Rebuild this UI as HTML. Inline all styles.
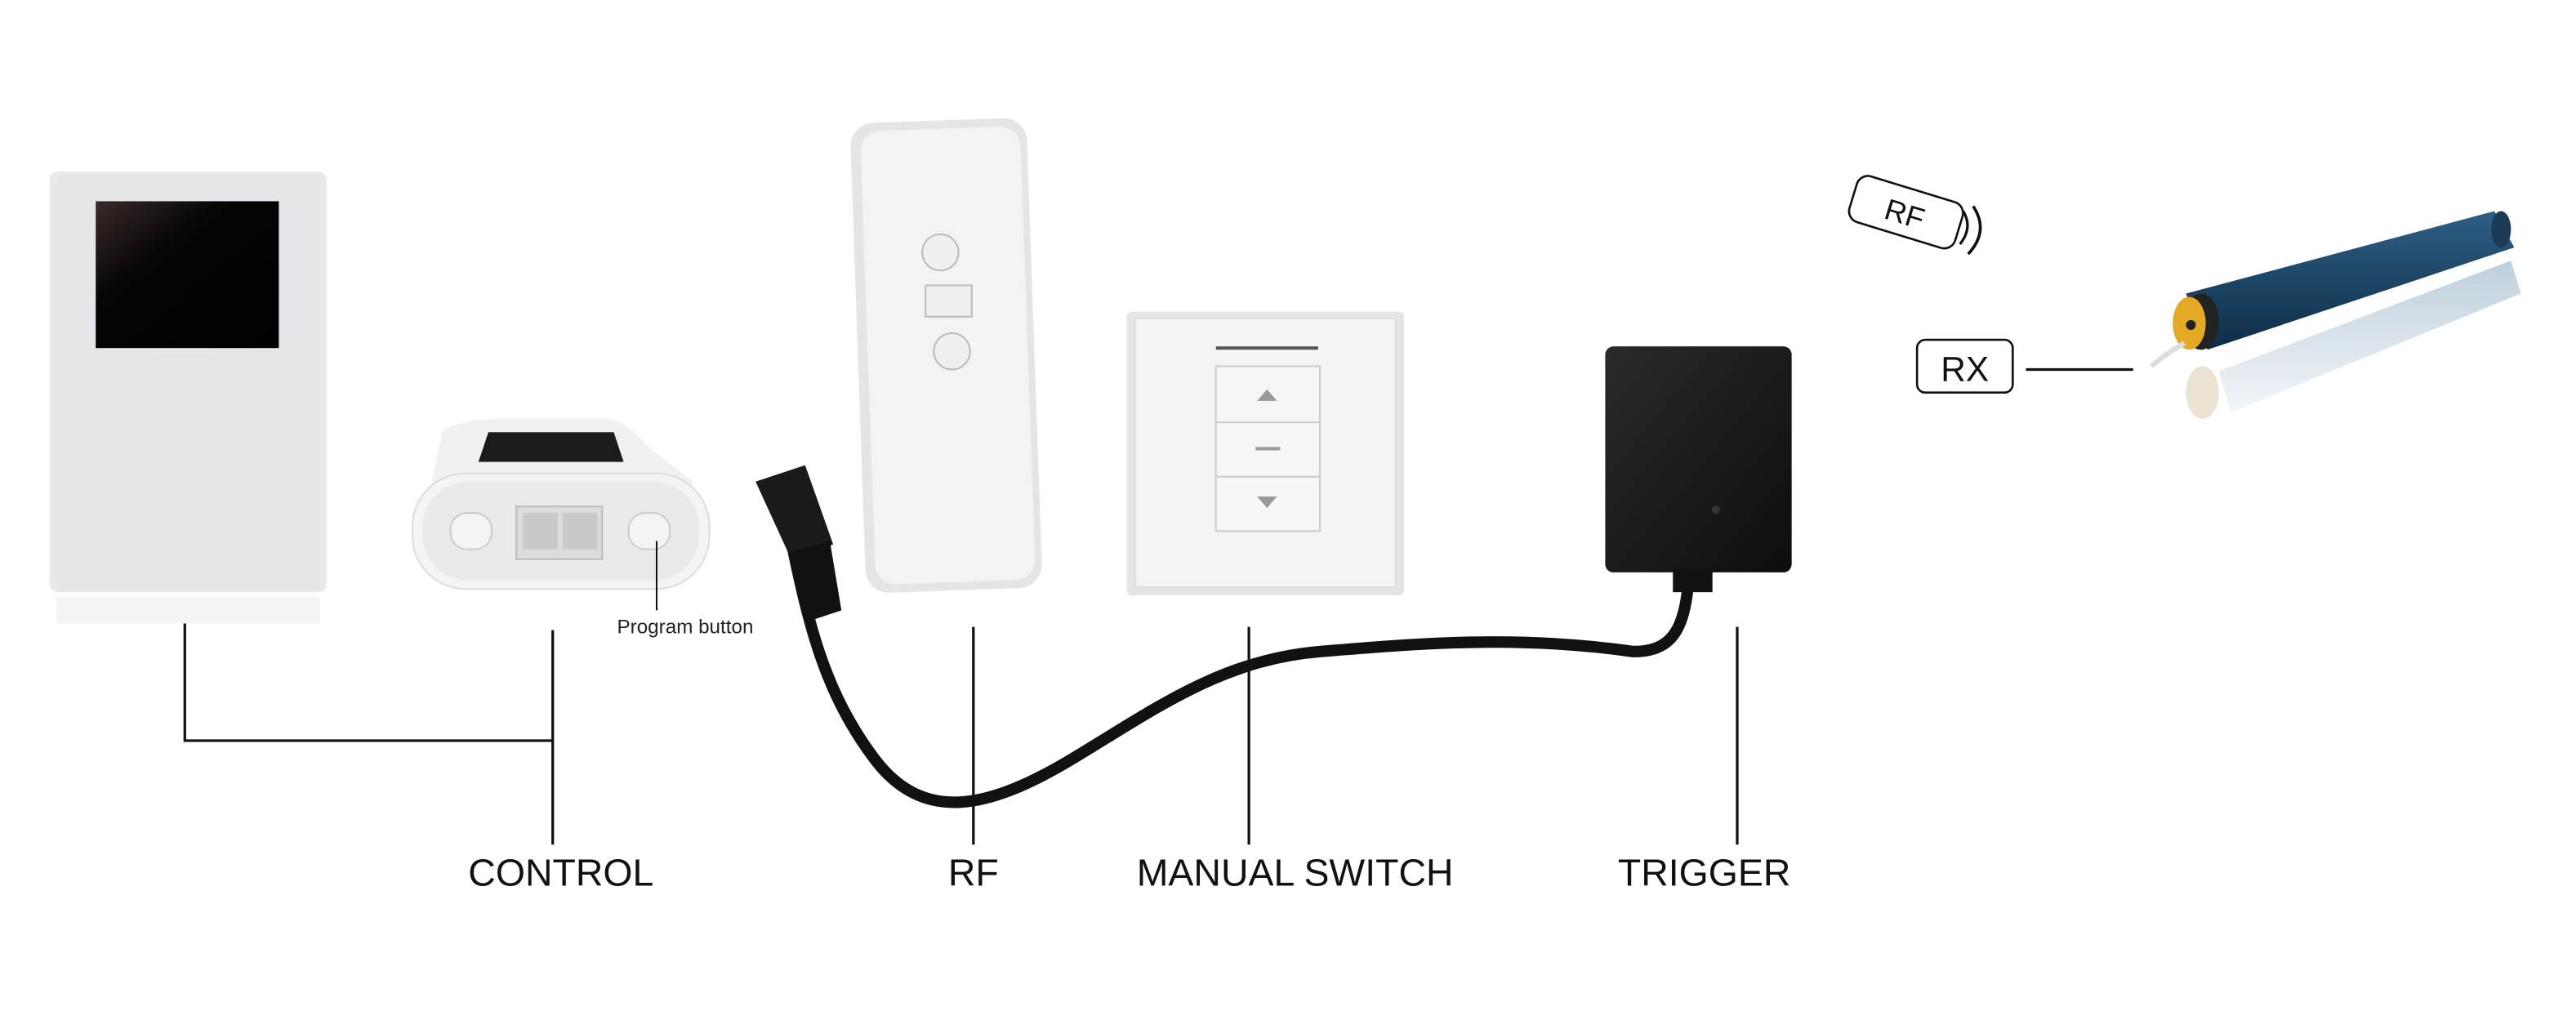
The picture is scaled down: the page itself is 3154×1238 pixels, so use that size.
<!DOCTYPE html>
<html><head><meta charset="utf-8"><style>
html,body{margin:0;padding:0;background:#fff;}
svg{display:block;}
text{font-family:"Liberation Sans",sans-serif;}
</style></head><body>
<svg width="3154" height="1238" viewBox="0 0 1561.4 612.9" xmlns="http://www.w3.org/2000/svg">
<defs>
<linearGradient id="scr" x1="0" y1="0" x2="1" y2="1"><stop offset="0" stop-color="#3a2a28"/><stop offset="0.35" stop-color="#050505"/><stop offset="1" stop-color="#000"/></linearGradient>
<linearGradient id="blue" x1="0" y1="0" x2="0" y2="1"><stop offset="0" stop-color="#2f5f85"/><stop offset="0.5" stop-color="#1d4566"/><stop offset="1" stop-color="#0f2c45"/></linearGradient>
<linearGradient id="refl" x1="0" y1="0" x2="0" y2="1"><stop offset="0" stop-color="#a9bfd0"/><stop offset="1" stop-color="#eef3f7"/></linearGradient>
<linearGradient id="blk" x1="0" y1="0" x2="1" y2="1"><stop offset="0" stop-color="#2a2a2a"/><stop offset="1" stop-color="#0d0d0d"/></linearGradient>
</defs>
<rect width="1561.4" height="612.9" fill="#fff"/>

<!-- tall control device -->
<rect x="34" y="362" width="160" height="16" fill="#f0f1f2" opacity="0.8"/>
<rect x="30" y="104" width="168" height="255" rx="5" fill="#e8e9eb"/>
<rect x="34" y="106" width="160" height="252" rx="4" fill="#e5e6e9"/>
<rect x="58" y="122" width="111" height="89" fill="url(#scr)"/>

<!-- small hub -->
<path d="M268 262 Q275 255 300 254 L370 254 Q380 256 392 270 L420 292 L420 340 L262 340 L262 290 Z" fill="#f0f1f3"/>
<path d="M296 262 L372 262 L378 280 L290 280 Z" fill="#1b1b1b"/>
<rect x="250" y="287" width="180" height="70" rx="32" fill="#f3f4f5" stroke="#dcdde0"/>
<rect x="256" y="292" width="168" height="60" rx="28" fill="#e9eaec"/>
<rect x="273" y="311" width="25" height="22" rx="10" fill="#f4f4f5" stroke="#ccc"/>
<rect x="381" y="311" width="25" height="22" rx="10" fill="#f4f4f5" stroke="#ccc"/>
<rect x="313" y="307" width="52" height="32" fill="#dcdcde" stroke="#bbb"/>
<rect x="317" y="311" width="21" height="22" fill="#c9c9cc"/>
<rect x="341" y="311" width="21" height="22" fill="#c9c9cc"/>
<line x1="398" y1="328" x2="398" y2="370" stroke="#111" stroke-width="1"/>
<text x="374" y="384" font-size="12" fill="#222">Program button</text>

<!-- cable -->
<path d="M478 320 C490 380 500 420 530 460 C560 500 600 490 650 460 C700 430 740 400 800 395 C860 390 920 385 990 395 C1015 395 1022 380 1024 345" fill="none" stroke="#111" stroke-width="7" stroke-linecap="round"/>
<path d="M458 292 L488 282 L505 330 L480 340 Z" fill="#1a1a1a"/>
<path d="M478 335 L503 328 L510 370 L492 376 Z" fill="#111"/>

<!-- remote -->
<rect x="520" y="73" width="107" height="285" rx="14" fill="#e4e5e7" transform="rotate(-2 573 215)"/>
<rect x="526" y="78" width="97" height="275" rx="12" fill="#f2f3f4" transform="rotate(-2 573 215)"/>
<circle cx="570" cy="153" r="11" fill="#efeff0" stroke="#bbb"/>
<rect x="561" y="173" width="28" height="19" fill="#efeff0" stroke="#bbb"/>
<circle cx="577" cy="213" r="11" fill="#efeff0" stroke="#bbb"/>

<!-- wall switch -->
<rect x="683" y="189" width="168" height="172" rx="3" fill="#e4e5e6"/>
<rect x="688" y="193" width="158" height="163" fill="#f4f4f5" stroke="#ddd"/>
<rect x="737" y="210" width="62" height="2" fill="#555"/>
<rect x="737" y="222" width="63" height="100" fill="#f6f6f6" stroke="#ccc"/>
<line x1="737" y1="256" x2="800" y2="256" stroke="#ccc"/>
<line x1="737" y1="289" x2="800" y2="289" stroke="#ccc"/>
<path d="M762 243 L768 236 L774 243 Z" fill="#999"/>
<rect x="761" y="271" width="15" height="2" fill="#999"/>
<path d="M762 301 L768 308 L774 301 Z" fill="#999"/>

<!-- trigger -->
<rect x="973" y="210" width="113" height="137" rx="5" fill="url(#blk)"/>
<rect x="1014" y="345" width="24" height="14" fill="#111"/>
<circle cx="1040" cy="309" r="2.5" fill="#333"/>

<!-- connectors -->
<g stroke="#111" stroke-width="1.6" fill="none">
<path d="M112 378 V449 H335"/>
<line x1="335" y1="382" x2="335" y2="512"/>
<line x1="590" y1="380" x2="590" y2="512"/>
<line x1="757" y1="380" x2="757" y2="512"/>
<line x1="1053" y1="380" x2="1053" y2="512"/>
<line x1="1228" y1="224" x2="1293" y2="224"/>
</g>

<g font-size="23" fill="#111" text-anchor="middle">
<text x="340" y="537">CONTROL</text>
<text x="590" y="537">RF</text>
<text x="785" y="537">MANUAL SWITCH</text>
<text x="1033" y="537">TRIGGER</text>
</g>

<!-- RF tag -->
<g transform="rotate(17 1155 128)">
<rect x="1122" y="114" width="67" height="29" rx="7" fill="#fff" stroke="#111" stroke-width="1.3"/>
<text x="1155" y="136" font-size="18" text-anchor="middle" fill="#111">RF</text>
</g>
<path d="M1190 128 Q1196 138 1188 148" fill="none" stroke="#111" stroke-width="1.6"/>
<path d="M1196 125 Q1206 140 1193 154" fill="none" stroke="#111" stroke-width="1.8"/>

<!-- RX -->
<rect x="1162" y="206" width="58" height="32" rx="5" fill="#fff" stroke="#111" stroke-width="1.3"/>
<text x="1191" y="231" font-size="21" text-anchor="middle" fill="#111">RX</text>

<!-- motor -->
<path d="M1345 225 L1522 158 L1528 178 L1352 250 Z" fill="url(#refl)" opacity="0.75"/>
<ellipse cx="1335" cy="238" rx="10" ry="16" fill="#d8c9a8" opacity="0.5"/>
<path d="M1325 178 L1512 128 L1524 150 L1338 212 Z" fill="url(#blue)"/>
<ellipse cx="1516" cy="139" rx="6" ry="11" fill="#1d3b55"/>
<ellipse cx="1334" cy="195" rx="11" ry="17" fill="#222"/>
<ellipse cx="1327" cy="196" rx="10" ry="16" fill="#e6a925"/>
<circle cx="1328" cy="197" r="3" fill="#222"/>
<path d="M1324 208 Q1312 215 1304 222" stroke="#ddd" stroke-width="3" fill="none"/>
</svg>
</body></html>
